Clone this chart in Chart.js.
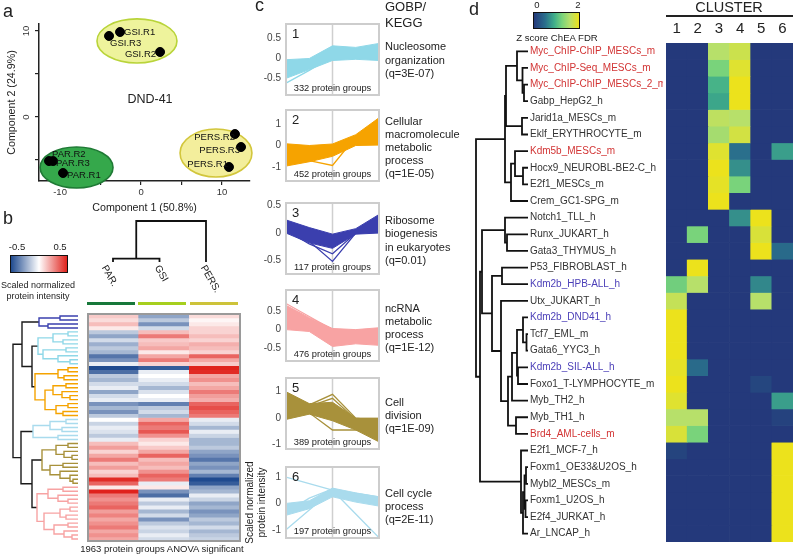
<!DOCTYPE html>
<html>
<head>
<meta charset="utf-8">
<title>DND-41 proteome clusters</title>
<script src="https://cdn.jsdelivr.net/npm/chart.js"></script>
<style>
  body { margin: 0; background: #fff; font-family: "Liberation Sans", Arial, sans-serif; color: #222; }
  #fig { position: relative; width: 793px; height: 554px; overflow: hidden; }
  #fig canvas { position: absolute; }
  .t { position: absolute; white-space: nowrap; }
  .bar { position: absolute; }
</style>
</head>
<body>
<div id="fig">
  <!-- colour keys and annotation bars -->
  <div class="bar" style="left:10px;top:255px;width:56px;height:16px;border:1.5px solid #111;background:linear-gradient(to right,#1f4a8f,#ffffff,#e0221c)"></div>
  <div class="bar" style="left:87px;top:302px;width:48px;height:3px;background:#17783a"></div>
  <div class="bar" style="left:138px;top:302px;width:48px;height:3px;background:#a6cf1e"></div>
  <div class="bar" style="left:190px;top:302px;width:48px;height:3px;background:#cdc33a"></div>
  <div class="bar" style="left:533px;top:12px;width:45px;height:15px;border:1.5px solid #111;background:linear-gradient(to right,#24397b,#2a6f8c 25%,#3fae8a 45%,#79d37b 62%,#b7e06a 80%,#ece21c)"></div>
  <div class="bar" style="left:666px;top:15px;width:127px;height:1.5px;background:#222"></div>
</div>

<script>
// ---------- data: panel a (PCA) ----------
const pcaNames = ['GSI.R1', 'GSI.R3', 'GSI.R2', 'PERS.R2', 'PERS.R3', 'PERS.R1', 'PAR.R2', 'PAR.R3', 'PAR.R1'];
const pcaX = [-2.59, -3.95, 2.35, 11.6, 12.35, 10.86, -11.36, -10.86, -9.63];
const pcaY = [9.88, 9.42, 7.56, -1.98, -3.49, -5.81, -5.12, -5.12, -6.51];
const groupCx = [-0.5, 9.26, -7.96];
const groupCy = [8.84, -4.19, -5.87];
const groupRx = [4.94, 4.44, 4.5];
const groupRy = [2.56, 2.79, 2.38];
const pcaYTickLabels = [0, 10];

// ---------- data: panel b (heatmap) ----------
const sampleNames = ['PAR.', 'GSI', 'PERS.'];
const parVals = [0.12, 0.08, 0.15, 0.05, -0.15, -0.25, -0.1, -0.22, -0.15, -0.2, -0.38, -0.3, -0.05, -0.5, -0.4, -0.15, -0.2, -0.1, -0.05,
  -0.25, -0.1, -0.05, -0.3, -0.2, -0.3, -0.15, 0.0, -0.12, -0.05, -0.08, -0.15, -0.05, 0.15, 0.22, 0.1, 0.2, 0.3, 0.15, 0.22,
  0.1, 0.15, 0.48, 0.35, 0.05, 0.5, 0.3, 0.25, 0.3, 0.35, 0.22, 0.28, 0.2, 0.25, 0.3, 0.2, 0.25, 0.2];
const gsiVals = [-0.25, -0.15, -0.3, -0.1, 0.15, 0.3, 0.12, 0.15, 0.2, 0.05, 0.2, 0.3, 0.1, -0.45, -0.05, 0.0, -0.05, -0.1, -0.2,
  -0.08, 0.0, -0.05, -0.35, -0.15, -0.1, -0.2, 0.2, 0.35, 0.3, 0.38, 0.25, 0.1, 0.05, 0.12, 0.2, 0.35, 0.15, 0.2, 0.15,
  0.25, 0.35, 0.3, -0.05, 0.05, -0.3, -0.4, -0.05, -0.15, -0.05, -0.2, -0.1, -0.3, -0.15, -0.08, -0.12, -0.05, -0.1];
const persVals = [0.08, 0.02, 0.05, 0.1, 0.1, 0.15, 0.1, 0.18, 0.15, 0.1, 0.35, 0.2, 0.12, 0.5, 0.48, 0.2, 0.25, 0.15, 0.2,
  0.3, 0.22, 0.18, 0.35, 0.4, 0.35, 0.3, -0.05, -0.1, -0.2, -0.05, -0.12, -0.2, -0.2, -0.15, -0.25, -0.3, -0.38, -0.25, -0.3,
  -0.2, -0.35, -0.5, -0.45, -0.25, -0.2, -0.05, -0.12, -0.25, -0.2, -0.3, -0.25, -0.15, -0.2, -0.1, -0.2, -0.15, -0.12];
// [height, left, right, colour?]
const rowTree = [65,
  [56, [39, [18, 0, 1], [30, 2, 3], '#3b40ae'],
    [46, [40, [25, [10, 4, 5], [15, 6, 7]], [35, [12, 8, 9], [20, 10, [8, 11, 12]]], '#8fd8e8'],
      [43, [20, [10, 13, 14], [14, 15, 16]], [33, [25, [12, 17, 18], [16, 19, [8, 20, 21]]], [22, [10, 22, 23], [15, 24, 25]]], '#f5a300']]],
  [57, [45, [28, [12, 26, 27], [16, 28, 29]], [20, 30, 31], '#a9dbed'],
    [46, [36, [22, [10, 32, 33], [14, 34, [6, 35, 36]]], [28, [15, 37, 38], [18, 39, [8, 40, [5, 41, 42]]]], '#a8913b'],
      [41, [30, [15, 43, 44], [20, 45, [10, 46, 47]]], [34, [18, [8, 48, 49], [12, 50, 51]], [24, [10, 52, 53], [14, 54, [6, 55, 56]]]], '#f7a3a3']]]];
const sampleTree = [1, [0.08, 0, 1], 2];

// ---------- data: panel c (cluster profiles) ----------
const profileX = [0, 1, 2, 3, 4];
const clusterNums = ['1', '2', '3', '4', '5', '6'];
const clusterCounts = [332, 452, 117, 476, 389, 197];
const bandUpper = [
  [-0.03, 0.0, 0.32, 0.28, 0.38],
  [0.08, 0.0, 0.07, 0.5, 1.28],
  [0.24, 0.1, -0.02, 0.08, 0.34],
  [0.65, 0.32, 0.03, 0.0, 0.05],
  [1.0, 0.55, 0.6, 0.0, 0.0],
  [0.0, 0.1, 0.58, 0.4, 0.25]];
const bandLower = [
  [-0.5, -0.28, -0.05, -0.02, -0.05],
  [-0.95, -0.75, -0.5, 0.0, 0.02],
  [0.0, -0.18, -0.28, -0.02, 0.0],
  [0.0, -0.05, -0.45, -0.38, -0.42],
  [-0.05, 0.15, -0.1, -0.45, -0.9],
  [-0.45, -0.2, 0.25, 0.05, -0.1]];
const outlierLines = [
  [[-0.62, -0.3, 0.05, 0.1, 0.2]],
  [[-0.9, -0.7, -0.92, 0.4, 1.1]],
  [[0.05, -0.2, -0.38, 0.0, 0.1], [0.1, -0.15, -0.52, 0.0, 0.15]],
  [[0.7, 0.35, 0.0, -0.1, -0.2]],
  [[0.95, 0.5, 0.9, 0.0, -0.1], [0.8, 0.45, 0.75, -0.05, -0.3], [0.2, 0.2, -0.45, -0.45, -0.6]],
  [[1.0, 0.75, 0.5, 0.38, 0.25], [-1.0, -0.25, 0.5, -0.4, -1.3], [-0.35, 0.2, 0.55, 0.25, 0.1]]];
const profileTicks = [[-0.5, 0, 0.5], [-1, 0, 1], [-0.5, 0, 0.5], [-0.5, 0, 0.5], [-1, 0, 1], [-1, 0, 1]];
const profileMin = [-0.92, -1.64, -0.75, -0.84, -1.17, -1.31];
const profileMax = [0.87, 1.64, 0.55, 1.06, 1.52, 1.38];

// ---------- data: panel d (ChEA) ----------
const clusterLabels = ['1', '2', '3', '4', '5', '6'];
const tfNames = ['Myc_ChIP-ChIP_MESCs_m', 'Myc_ChIP-Seq_MESCs_m', 'Myc_ChIP-ChIP_MESCs_2_m', 'Gabp_HepG2_h', 'Jarid1a_MESCs_m',
  'Eklf_ERYTHROCYTE_m', 'Kdm5b_MESCs_m', 'Hocx9_NEUROBL-BE2-C_h', 'E2f1_MESCs_m', 'Crem_GC1-SPG_m', 'Notch1_TLL_h',
  'Runx_JUKART_h', 'Gata3_THYMUS_h', 'P53_FIBROBLAST_h', 'Kdm2b_HPB-ALL_h', 'Utx_JUKART_h', 'Kdm2b_DND41_h', 'Tcf7_EML_m',
  'Gata6_YYC3_h', 'Kdm2b_SIL-ALL_h', 'Foxo1_T-LYMPHOCYTE_m', 'Myb_TH2_h', 'Myb_TH1_h', 'Brd4_AML-cells_m', 'E2f1_MCF-7_h',
  'Foxm1_OE33&U2OS_h', 'Mybl2_MESCs_m', 'Foxm1_U2OS_h', 'E2f4_JURKAT_h', 'Ar_LNCAP_h'];
const tfGroup = ['myc', 'myc', 'myc', '', '', '', 'myc', '', '', '', '', '', '', '', 'kdm', '', 'kdm', '', '', 'kdm',
  '', '', '', 'myc', '', '', '', '', '', ''];
const chEAScores = [
  [0, 0, 1.6, 1.75, 0, 0], [0, 0, 1.25, 1.9, 0, 0], [0, 0, 0.95, 2, 0, 0], [0, 0, 0.85, 2, 0, 0], [0, 0, 1.65, 1.6, 0, 0],
  [0, 0, 1.5, 1.8, 0, 0], [0, 0, 1.9, 0.5, 0, 0.8], [0, 0, 2, 0.7, 0, 0], [0, 0, 1.95, 1.25, 0, 0], [0, 0, 2, 0, 0, 0],
  [0, 0, 0, 0.7, 2, 0], [0, 1.25, 0, 0, 1.85, 0], [0, 0, 0, 0, 2, 0.45], [0, 2, 0, 0, 0, 0], [1.2, 1.6, 0, 0, 0.65, 0],
  [1.7, 0, 0, 0, 1.6, 0], [2, 0, 0, 0, 0, 0], [2, 0, 0, 0, 0, 0], [2, 0, 0, 0, 0, 0], [1.95, 0.45, 0, 0, 0, 0],
  [2, 0, 0, 0, 0.12, 0], [1.9, 0, 0, 0, 0, 0.8], [1.6, 1.6, 0, 0, 0, 0.08], [1.85, 1.25, 0, 0, 0, 0], [0.1, 0, 0, 0, 0, 2],
  [0, 0, 0, 0, 0, 2], [0, 0, 0, 0, 0, 2], [0, 0, 0, 0, 0, 2], [0, 0, 0, 0, 0, 2], [0, 0, 0, 0, 0, 2]];
const tfTree = [52,
  [23, [22, [11, 0, [5.5, 1, [4, 2, 3]]], [6, 4, 5]], [17, [13, 6, [5, 7, 8]], 9]],
  [48, [46, [23, 10, [21, 11, 12]], [36, [26, 13, 14], [27, 15, [20, [16, [11, [5, 16, [1.5, 17, 18]], [10, 19, 20]], 21], [12, 22, 23]]]]],
    [7, 24, [5, [3.5, [2, 25, 26], [2.5, 27, 28]], 29]]]];

// ---------- styles ----------
const FONT = '"Liberation Sans", Arial, sans-serif';
const groupFill = ['#eef39c', '#f3ee9c', '#35a84b'];
const groupEdge = ['#b9d43a', '#d2c63c', '#1f7a35'];
const labelDx = [4, 1, -4, 0, -1, -1, 3, 3, 4];
const labelDy = [0, 7, 2, 3, 3, -3, -7, 2, 2];
const labelAlign = ['left', 'left', 'right', 'right', 'right', 'right', 'left', 'left', 'left'];
const profileColors = ['#8fd8e8', '#f6a300', '#3b3fae', '#f8a3a3', '#a8913b', '#a9dbed'];
const boxTops = [21, 107, 200, 287, 375, 464];
const tfColorMap = { myc: '#d23434', kdm: '#4b3fb8', '': '#333' };

Chart.defaults.font.family = FONT;
Chart.defaults.color = '#222';
Chart.defaults.animation = false;
Chart.defaults.events = [];
Chart.defaults.plugins.legend.display = false;
Chart.defaults.plugins.tooltip.enabled = false;

const fig = document.getElementById('fig');

function makeCanvas(left, top, w, h) {
  const c = document.createElement('canvas');
  c.width = w; c.height = h;
  c.style.left = left + 'px'; c.style.top = top + 'px';
  c.style.width = w + 'px'; c.style.height = h + 'px';
  fig.appendChild(c);
  return c.getContext('2d');
}

function addText(txt, x, cy, size, align, extra) {
  const d = document.createElement('div');
  d.className = 't';
  d.textContent = txt;
  d.style.fontSize = size + 'px';
  d.style.lineHeight = size + 'px';
  d.style.top = (cy - size / 2) + 'px';
  d.style.left = x + 'px';
  if (align === 'center') d.style.transform = 'translateX(-50%)';
  if (extra) Object.assign(d.style, extra);
  fig.appendChild(d);
}

function hexToRgb(h) {
  return [parseInt(h.slice(1, 3), 16), parseInt(h.slice(3, 5), 16), parseInt(h.slice(5, 7), 16)];
}
function mix(a, b, t) {
  return 'rgb(' + a.map((v, i) => Math.round(v + (b[i] - v) * t)).join(',') + ')';
}
function divColor(v) {
  const t = Math.max(-1, Math.min(1, v / 0.5));
  return mix([255, 255, 255], t < 0 ? [31, 74, 143] : [224, 34, 28], Math.abs(t));
}
const zStops = [[0, '#24397b'], [0.5, '#2a6f8c'], [0.9, '#3fae8a'], [1.25, '#79d37b'], [1.6, '#b7e06a'], [2, '#ece21c']];
function zColor(v) {
  for (let i = 1; i < zStops.length; i++) {
    if (v <= zStops[i][0]) {
      const t = (v - zStops[i - 1][0]) / (zStops[i][0] - zStops[i - 1][0]);
      return mix(hexToRgb(zStops[i - 1][1]), hexToRgb(zStops[i][1]), t);
    }
  }
  return zStops[zStops.length - 1][1];
}

// dendrogram: turn nested merges into U-shaped paths
function dendroPaths(tree, baseColor) {
  const out = [];
  function walk(node, color) {
    if (typeof node === 'number') return { h: 0, p: node };
    const c = node[3] || color;
    const a = walk(node[1], c), b = walk(node[2], c);
    const h = node[0];
    out.push({ color: c, pts: [[a.h, a.p], [h, a.p], [h, b.p], [b.h, b.p]] });
    return { h, p: (a.p + b.p) / 2 };
  }
  walk(tree, baseColor);
  return out;
}

function dendroDatasets(paths, horizontal, width) {
  return paths.map(p => ({
    data: p.pts.map(([h, pos]) => horizontal ? { x: h, y: pos } : { x: pos, y: h }),
    showLine: true, borderColor: p.color, borderWidth: width, pointRadius: 0, clip: 4
  }));
}

const areaBorder = {
  id: 'areaBorder',
  afterDatasetsDraw(chart, args, o) {
    const { ctx, chartArea: a } = chart;
    ctx.save();
    ctx.strokeStyle = o.color; ctx.lineWidth = o.width;
    ctx.strokeRect(a.left, a.top, a.right - a.left, a.bottom - a.top);
    ctx.restore();
  }
};

// ================= panel a =================
const pcaDeco = {
  id: 'pcaDeco',
  beforeDatasetsDraw(chart) {
    const { ctx, scales: { x, y } } = chart;
    groupCx.forEach((gx, i) => {
      const cx = x.getPixelForValue(gx), cy = y.getPixelForValue(groupCy[i]);
      const rx = Math.abs(x.getPixelForValue(gx + groupRx[i]) - cx);
      const ry = Math.abs(y.getPixelForValue(groupCy[i] + groupRy[i]) - cy);
      ctx.save();
      ctx.beginPath();
      ctx.ellipse(cx, cy, rx, ry, 0, 0, Math.PI * 2);
      ctx.fillStyle = groupFill[i]; ctx.fill();
      ctx.lineWidth = 1.6; ctx.strokeStyle = groupEdge[i]; ctx.stroke();
      ctx.restore();
    });
  },
  afterDatasetsDraw(chart) {
    const { ctx, scales: { x, y } } = chart;
    ctx.save();
    ctx.font = '9.5px ' + FONT; ctx.fillStyle = '#111'; ctx.textBaseline = 'middle';
    pcaNames.forEach((n, i) => {
      ctx.textAlign = labelAlign[i];
      ctx.fillText(n, x.getPixelForValue(pcaX[i]) + labelDx[i], y.getPixelForValue(pcaY[i]) + labelDy[i]);
    });
    ctx.font = '9.5px ' + FONT; ctx.fillStyle = '#333'; ctx.textAlign = 'center';
    pcaYTickLabels.forEach(v => {
      ctx.save();
      ctx.translate(26, y.getPixelForValue(v));
      ctx.rotate(-Math.PI / 2);
      ctx.fillText(String(v), 0, 0);
      ctx.restore();
    });
    ctx.restore();
  }
};

new Chart(makeCanvas(0, 0, 256, 214), {
  type: 'scatter',
  data: {
    datasets: [{
      data: pcaX.map((v, i) => ({ x: v, y: pcaY[i] })),
      backgroundColor: '#000', borderColor: '#000', pointRadius: 4.5, clip: false
    }]
  },
  options: {
    responsive: false,
    layout: { padding: { top: 24, right: 6 } },
    scales: {
      x: {
        min: -12.6, max: 13.46,
        ticks: { stepSize: 5, includeBounds: false, maxRotation: 0, padding: 2, color: '#333', font: { size: 9.5 },
          callback: v => (v % 10 === 0 ? v : '') },
        grid: { drawOnChartArea: false, tickLength: 4, color: '#222', lineWidth: 1.2 },
        border: { color: '#222', width: 1.5 },
        title: { display: true, text: 'Component 1 (50.8%)', font: { size: 10.7 }, padding: { top: 3, bottom: 0 } },
        afterFit: s => { s.height = 33; }
      },
      y: {
        min: -7.44, max: 10.81,
        ticks: { stepSize: 5, includeBounds: false, display: false },
        grid: { drawOnChartArea: false, tickLength: 4, color: '#222', lineWidth: 1.2 },
        border: { color: '#222', width: 1.5 },
        title: { display: true, text: 'Component 2 (24.9%)', font: { size: 10.7 }, padding: { top: 6, bottom: 0 } },
        afterFit: s => { s.width = 39; }
      }
    }
  },
  plugins: [pcaDeco]
});

// ================= panel b =================
new Chart(makeCanvas(78, 304, 172, 247), {
  type: 'bar',
  data: {
    labels: sampleNames,
    datasets: parVals.map((v, i) => ({
      data: [1, 1, 1],
      backgroundColor: [divColor(parVals[i]), divColor(gsiVals[i]), divColor(persVals[i])],
      borderWidth: 0
    }))
  },
  options: {
    responsive: false,
    layout: { padding: 10 },
    datasets: { bar: { categoryPercentage: 1, barPercentage: 1 } },
    scales: {
      x: { stacked: true, display: false },
      y: { stacked: true, display: false, reverse: true, min: 0, max: parVals.length }
    },
    plugins: { areaBorder: { color: '#9a9a9a', width: 2 } }
  },
  plugins: [areaBorder]
});

// row dendrogram
new Chart(makeCanvas(2, 304, 86, 247), {
  type: 'scatter',
  data: { datasets: dendroDatasets(dendroPaths(rowTree, '#1a1a1a'), true, 1.4) },
  options: {
    responsive: false,
    layout: { padding: 10 },
    scales: {
      x: { type: 'linear', display: false, min: 0, max: 66, reverse: true },
      y: { type: 'linear', display: false, min: -0.5, max: parVals.length - 0.5, reverse: true }
    }
  }
});

// sample dendrogram
new Chart(makeCanvas(100, 211, 116, 61), {
  type: 'scatter',
  data: { datasets: dendroDatasets(dendroPaths(sampleTree, '#111'), false, 1.8) },
  options: {
    responsive: false,
    layout: { padding: { left: 13, right: 10, top: 10, bottom: 10 } },
    scales: {
      x: { type: 'linear', display: false, min: 0, max: 2 },
      y: { type: 'linear', display: false, min: 0, max: 1 }
    }
  }
});

// ================= panel c =================
const profileBox = {
  id: 'profileBox',
  beforeDatasetsDraw(chart) {
    const { ctx, chartArea: a, scales: { x } } = chart;
    const mx = x.getPixelForValue(2);
    ctx.save();
    ctx.strokeStyle = '#cfcfcf'; ctx.lineWidth = 1.5;
    ctx.beginPath(); ctx.moveTo(mx, a.top); ctx.lineTo(mx, a.bottom); ctx.stroke();
    ctx.restore();
  },
  afterDatasetsDraw(chart, args, o) {
    const { ctx, chartArea: a } = chart;
    ctx.save();
    ctx.strokeStyle = '#cdcdcd'; ctx.lineWidth = 2;
    ctx.strokeRect(a.left, a.top, a.right - a.left, a.bottom - a.top);
    ctx.fillStyle = '#222';
    ctx.font = '13px ' + FONT; ctx.textBaseline = 'top'; ctx.textAlign = 'left';
    ctx.fillText(o.num, a.left + 6, a.top + 4);
    ctx.font = '9.3px ' + FONT; ctx.textAlign = 'center'; ctx.textBaseline = 'alphabetic';
    ctx.fillText(o.count + ' protein groups', (a.left + a.right) / 2, a.bottom - 4);
    ctx.restore();
  }
};

clusterNums.forEach((num, k) => {
  const col = profileColors[k];
  const datasets = [
    { data: bandLower[k], borderColor: col, borderWidth: 1, pointRadius: 0, fill: false },
    { data: bandUpper[k], borderColor: col, borderWidth: 1, pointRadius: 0, fill: '-1', backgroundColor: col }
  ];
  outlierLines[k].forEach(line => datasets.push({ data: line, borderColor: col, borderWidth: 1.3, pointRadius: 0, fill: false }));
  new Chart(makeCanvas(244, boxTops[k] - 8, 141, 93), {
    type: 'line',
    data: { labels: profileX, datasets },
    options: {
      responsive: false,
      layout: { padding: { top: 8, bottom: 8, right: 6 } },
      scales: {
        x: { display: false },
        y: {
          min: profileMin[k], max: profileMax[k],
          afterBuildTicks: s => { s.ticks = profileTicks[k].map(v => ({ value: v })); },
          ticks: { color: '#444', font: { size: 10 }, padding: 5 },
          grid: { display: false, drawTicks: false },
          border: { display: false },
          title: {
            display: k === 5, text: ['Scaled normalized', 'protein intensity'],
            font: { size: 10 }, padding: { top: 0, bottom: 0 }
          },
          afterFit: s => { s.width = 42; }
        }
      },
      plugins: { profileBox: { num, count: clusterCounts[k] } }
    },
    plugins: [profileBox]
  });
});

// ================= panel d =================
new Chart(makeCanvas(656, 18, 137, 532), {
  type: 'bar',
  data: {
    labels: clusterLabels,
    datasets: chEAScores.map(row => ({ data: row.map(() => 1), backgroundColor: row.map(zColor), borderWidth: 0 }))
  },
  options: {
    responsive: false,
    layout: { padding: { left: 10, right: 0, top: 0, bottom: 8 } },
    datasets: { bar: { categoryPercentage: 1, barPercentage: 1 } },
    scales: {
      x: {
        stacked: true, position: 'top',
        ticks: { color: '#222', font: { size: 15 }, padding: 5, maxRotation: 0 },
        grid: { display: false, drawTicks: false }, border: { display: false },
        afterFit: s => { s.height = 25; }
      },
      y: { stacked: true, display: false, reverse: true, min: 0, max: chEAScores.length }
    }
  }
});

new Chart(makeCanvas(460, 33, 203, 519), {
  type: 'scatter',
  data: { datasets: dendroDatasets(dendroPaths(tfTree, '#111'), true, 1.8) },
  options: {
    responsive: false,
    layout: { padding: { left: 10, top: 10, bottom: 10, right: 0 } },
    scales: {
      x: { type: 'linear', display: false, min: 0, max: 58, reverse: true },
      y: {
        type: 'linear', position: 'right', min: -0.5, max: tfNames.length - 0.5, reverse: true,
        afterBuildTicks: s => { s.ticks = tfNames.map((_, i) => ({ value: i })); },
        ticks: {
          autoSkip: false, padding: 2, font: { size: 10 },
          callback: v => tfNames[v],
          color: c => tfColorMap[tfGroup[c.index]]
        },
        grid: { display: false, drawTicks: false }, border: { display: false },
        afterFit: s => { s.width = 135; }
      }
    }
  }
});

// ================= text =================
addText('a', 3, 11, 18);
addText('b', 3, 217.5, 18);
addText('c', 255, 4.5, 18);
addText('d', 469, 9.3, 18);

addText('DND-41', 150, 99, 12.5, 'center');

addText('-0.5', 17, 247, 9.5, 'center');
addText('0.5', 60, 247, 9.5, 'center');
addText('Scaled normalized', 38, 285, 9, 'center');
addText('protein intensity', 38, 296, 9, 'center');
const rotLab = { transformOrigin: 'left center', transform: 'rotate(60deg)' };
addText('PAR.', 104, 266, 10, 'left', rotLab);
addText('GSI', 157, 266, 10, 'left', rotLab);
addText('PERS.', 203, 266, 10, 'left', rotLab);
addText('1963 protein groups ANOVA significant', 162, 549, 9.5, 'center');

addText('GOBP/', 385, 6, 13);
addText('KEGG', 385, 22, 13);
const descLines = [
  [['Nucleosome', 46], ['organization', 60], ['(q=3E-07)', 73]],
  [['Cellular', 121], ['macromolecule', 134], ['metabolic', 147], ['process', 160], ['(q=1E-05)', 173]],
  [['Ribosome', 220], ['biogenesis', 233], ['in eukaryotes', 247], ['(q=0.01)', 260]],
  [['ncRNA', 308], ['metabolic', 321], ['process', 334], ['(q=1E-12)', 347]],
  [['Cell', 402], ['division', 415], ['(q=1E-09)', 428]],
  [['Cell cycle', 493], ['process', 506], ['(q=2E-11)', 519]]];
descLines.forEach(block => block.forEach(([s, y]) => addText(s, 385, y, 11)));

addText('0', 537, 5, 9.5, 'center');
addText('2', 578, 5, 9.5, 'center');
addText('Z score ChEA FDR', 557, 38, 9.6, 'center');
addText('CLUSTER', 729, 7, 14.5, 'center');
</script>
</body>
</html>
